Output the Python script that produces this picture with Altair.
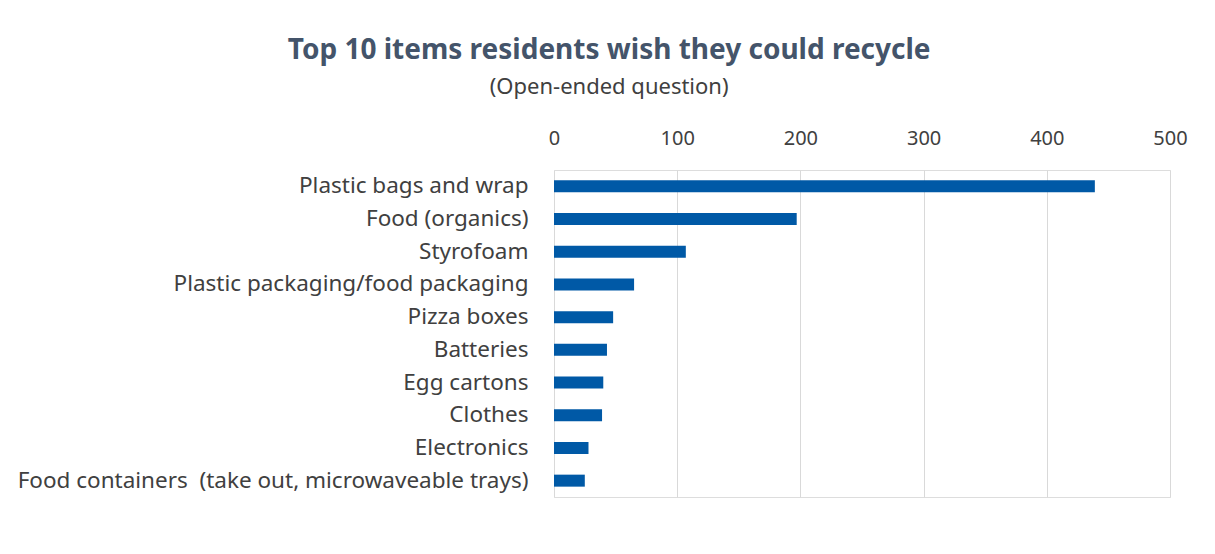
import altair as alt
import pandas as pd

items = [
    "Plastic bags and wrap",
    "Food (organics)",
    "Styrofoam",
    "Plastic packaging/food packaging",
    "Pizza boxes",
    "Batteries",
    "Egg cartons",
    "Clothes",
    "Electronics",
    "Food containers\u00a0 (take out, microwaveable trays)",
]
counts = [439, 197, 107, 65, 48, 43, 40, 39, 28, 25]
tick_values = [0, 100, 200, 300, 400, 500]

df = pd.DataFrame({"item": items, "count": counts})

chart = (
    alt.Chart(df)
    .mark_bar(color="#0059A6", size=12)
    .encode(
        x=alt.X(
            "count:Q",
            scale=alt.Scale(domain=[0, 500], nice=False),
            axis=alt.Axis(
                orient="top",
                values=tick_values,
                title=None,
                domain=False,
                ticks=False,
                labelPadding=22,
                labelFontSize=20,
                labelColor="#404040",
                labelFont="Noto Sans",
                gridColor="#D9D9D9",
                labelFlush=False,
            ),
        ),
        y=alt.Y(
            "item:N",
            sort=items,
            axis=alt.Axis(
                title=None,
                domain=False,
                ticks=False,
                grid=False,
                labelPadding=26,
                labelFontSize=22.5,
                labelColor="#404040",
                labelFont="Noto Sans",
                labelLimit=0,
            ),
        ),
    )
    .properties(
        width=616,
        height=327,
        padding={"left": 554, "top": 170, "right": 45, "bottom": 57},
        autosize=alt.AutoSizeParams(type="none"),
        title=alt.TitleParams(
            text="Top 10 items residents wish they could recycle",
            subtitle="(Open-ended question)",
            anchor="middle",
            frame="bounds",
            font="Noto Sans",
            fontSize=28,
            fontWeight="bold",
            color="#44546A",
            subtitleFont="Noto Sans",
            subtitleFontSize=22,
            subtitleColor="#404040",
            subtitlePadding=12,
            offset=30,
            dx=7,
        ),
    )
    .configure_view(stroke="transparent", strokeWidth=0)
    .configure(background="white")
)

chart.save("out.html", embed_options={"renderer": "svg", "actions": False})
